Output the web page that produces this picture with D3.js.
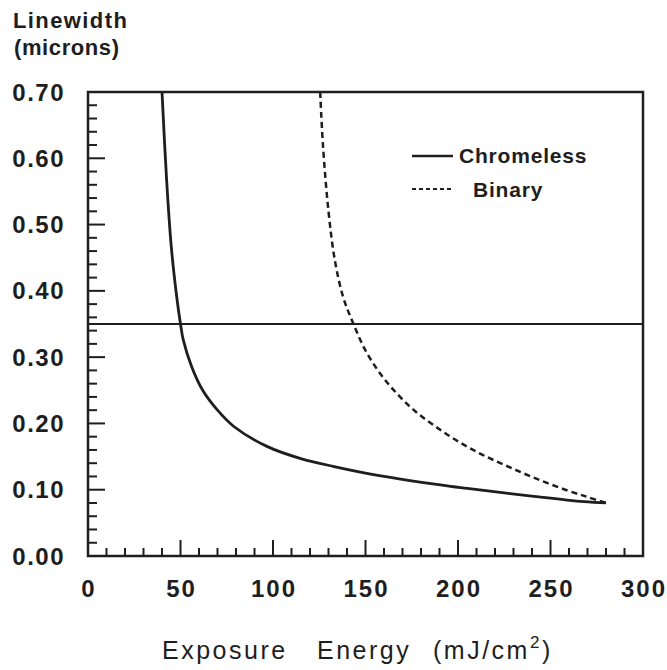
<!DOCTYPE html>
<html>
<head>
<meta charset="utf-8">
<script src="https://cdn.jsdelivr.net/npm/d3@7"></script>
<style>
  body { margin: 0; background: #fff; }
  svg text { font-family: "Liberation Sans", Arial, sans-serif; fill: #1e1e1e; }
</style>
</head>
<body>
<script>
'use strict';

// exposure energy (mJ/cm2) vs linewidth (microns)
var chromelessE = [40, 42.5, 45, 48, 50, 51.5, 56, 62, 70, 79, 97, 115, 133, 160, 196, 205, 241, 268, 280];
var chromelessW = [0.70, 0.567, 0.467, 0.39, 0.35, 0.326, 0.286, 0.25, 0.22, 0.195, 0.165, 0.147, 0.135, 0.12, 0.105, 0.102, 0.09, 0.082, 0.08];

var binaryE = [125.5, 127, 130, 133.5, 138, 143.5, 150, 158, 167, 177, 188, 200, 213, 227, 242, 258, 270, 280];
var binaryW = [0.70, 0.62, 0.52, 0.445, 0.39, 0.35, 0.31, 0.275, 0.245, 0.218, 0.195, 0.173, 0.153, 0.135, 0.117, 0.1, 0.089, 0.08];

var targetW = 0.35;

var xTicks = [0, 50, 100, 150, 200, 250, 300];
var yTicks = [0, 0.1, 0.2, 0.3, 0.4, 0.5, 0.6, 0.7];
var seriesNames = ['Chromeless', 'Binary'];

var W = 667, H = 670,
  plotL = 88, plotR = 643, plotT = 92, plotB = 556;

var svg = d3.select('body').append('svg')
  .attr('width', W)
  .attr('height', H);

var x = d3.scaleLinear().domain([0, 300]).range([plotL, plotR]);
var y = d3.scaleLinear().domain([0, 0.7]).range([plotB, plotT]);

var ink = '#1e1e1e';

// ticks, pointing inward
var g = svg.append('g');
d3.range(0, 301, 10).forEach(function(v){
  var major = v % 50 === 0;
  g.append('line').attr('x1', x(v)).attr('x2', x(v))
    .attr('y1', plotB).attr('y2', plotB - (major ? 16 : 8))
    .attr('stroke', ink).attr('stroke-width', 2);
});
d3.range(0, 36).forEach(function(i){
  var v = i * 0.02;
  var major = i % 5 === 0;
  g.append('line').attr('x1', plotL).attr('x2', plotL + (major ? 17 : 9))
    .attr('y1', y(v)).attr('y2', y(v))
    .attr('stroke', ink).attr('stroke-width', 2);
});

// frame
svg.append('rect')
  .attr('x', plotL).attr('y', plotT)
  .attr('width', plotR - plotL).attr('height', plotB - plotT)
  .attr('fill', 'none').attr('stroke', ink).attr('stroke-width', 2.5);

// tick labels
svg.append('g').selectAll('text').data(xTicks).enter().append('text')
  .attr('x', function(d){ return x(d) + 1; })
  .attr('y', 597)
  .attr('text-anchor', 'middle')
  .attr('font-size', 24).attr('font-weight', 'bold').attr('letter-spacing', 2)
  .text(function(d){ return d; });

svg.append('g').selectAll('text').data(yTicks).enter().append('text')
  .attr('x', 65)
  .attr('y', function(d){ return y(d) + 8.5; })
  .attr('text-anchor', 'end')
  .attr('font-size', 24).attr('font-weight', 'bold').attr('letter-spacing', 1.5)
  .text(function(d){ return d3.format('.2f')(d); });

// axis titles
svg.append('text').attr('x', 13).attr('y', 28)
  .attr('font-size', 22).attr('font-weight', 'bold').attr('letter-spacing', 1.4)
  .text('Linewidth');
svg.append('text').attr('x', 14).attr('y', 55)
  .attr('font-size', 22).attr('font-weight', 'bold').attr('letter-spacing', 0.6)
  .text('(microns)');

var titleStyle = function(t){
  return t.attr('y', 659).attr('font-size', 25).attr('letter-spacing', 2.5);
};
titleStyle(svg.append('text').attr('x', 162)).text('Exposure');
titleStyle(svg.append('text').attr('x', 317)).text('Energy');
var unit = titleStyle(svg.append('text').attr('x', 433));
unit.append('tspan').text('(mJ/cm');
unit.append('tspan').attr('dy', -11).attr('font-size', 17).text('2');
unit.append('tspan').attr('dy', 11).text(')');

// target linewidth
svg.append('line')
  .attr('x1', plotL).attr('x2', plotR)
  .attr('y1', y(targetW)).attr('y2', y(targetW))
  .attr('stroke', ink).attr('stroke-width', 2);

// curves
var line = d3.line()
  .x(function(d){ return x(d[0]); })
  .y(function(d){ return y(d[1]); })
  .curve(d3.curveCatmullRom.alpha(0.5));

svg.append('path')
  .datum(d3.zip(chromelessE, chromelessW))
  .attr('d', line)
  .attr('fill', 'none').attr('stroke', ink).attr('stroke-width', 2.8);

svg.append('path')
  .datum(d3.zip(binaryE, binaryW))
  .attr('d', line)
  .attr('fill', 'none').attr('stroke', ink).attr('stroke-width', 2.5)
  .attr('stroke-dasharray', '6,4');

// legend
var legend = svg.append('g');
legend.append('line').attr('x1', 412).attr('x2', 453).attr('y1', 156).attr('y2', 156)
  .attr('stroke', ink).attr('stroke-width', 2.5);
legend.append('line').attr('x1', 412).attr('x2', 453).attr('y1', 189).attr('y2', 189)
  .attr('stroke', ink).attr('stroke-width', 2).attr('stroke-dasharray', '4,3');
legend.append('text').attr('x', 459).attr('y', 163)
  .attr('font-size', 21).attr('font-weight', 'bold').attr('letter-spacing', 0.8)
  .text(seriesNames[0]);
legend.append('text').attr('x', 473).attr('y', 197)
  .attr('font-size', 21).attr('font-weight', 'bold').attr('letter-spacing', 0.8)
  .text(seriesNames[1]);
</script>
</body>
</html>
